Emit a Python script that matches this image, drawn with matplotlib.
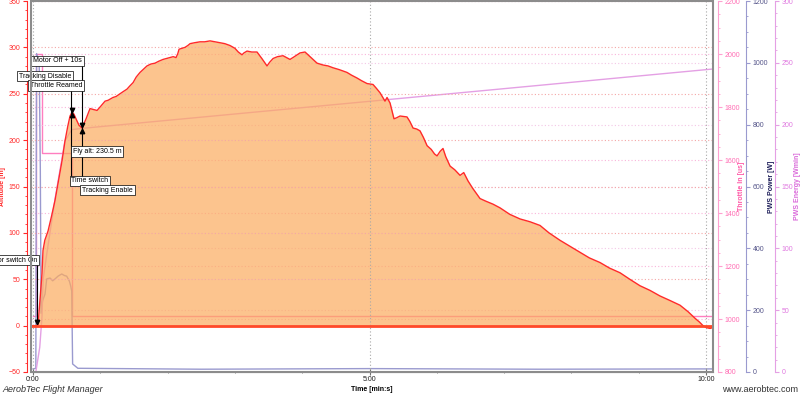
import matplotlib
matplotlib.use('Agg')
import matplotlib.pyplot as plt
from matplotlib.ticker import MultipleLocator, FuncFormatter
from matplotlib.patches import Rectangle

plt.rcParams['font.family'] = ['Liberation Sans', 'DejaVu Sans']

# --- data (time in seconds) ---
alt_t = [0, 3, 4.5, 6.2, 8.0, 8.9, 10.5, 13.4, 16.5, 19.6, 23, 25.9, 28.5, 31, 33.0, 34.8,
         36.5, 38.3, 41, 43.7, 45.5, 47.3, 50.8, 54, 57.1, 60, 64.2, 67, 71.3, 74, 77.6, 80,
         83.8, 86, 89.2, 92, 95.4, 98, 101.6, 105, 108.8, 112, 115.9, 119, 122.1, 125, 127.5,
         129, 130.2, 133, 135.5, 138, 140, 144, 148.9, 153, 157.8, 162, 166.7, 171, 175.6,
         180, 183, 186.3, 188, 190.8, 195, 199.7, 204, 208.6, 211, 214, 218, 222.9, 226,
         229.1, 233, 238, 242.5, 247, 253.2, 258.5, 263, 267.5, 273, 279.9, 284, 288.8, 293,
         297.8, 303.1, 306, 309.4, 313.8, 315.6, 318.3, 321.8, 324, 327.2, 333.4, 336, 338.8,
         342, 345, 348, 351.3, 355, 358, 360.2, 363, 365.5, 368, 371.8, 376, 380.7, 384,
         387.8, 392, 398.5, 404, 410, 416.3, 425, 434.2, 443, 452, 460, 469.8, 478, 487.7,
         496, 505.5, 514, 523.3, 532, 541.1, 550, 558.9, 568, 576.8, 584, 590.1, 594, 597.3,
         600, 603.5, 606]
alt_m = [0, 0, 1, 27, 56, 81, 92, 102, 118, 135, 158, 178, 199, 215, 226, 230,
         228, 223, 216, 213, 218, 223, 234, 233, 232, 236, 242, 243, 246, 247, 250, 252,
         255, 258, 262, 268, 273, 276, 280, 282, 283, 285, 287, 288, 289, 290, 289,
         293, 298, 299, 300, 302, 304, 305, 306, 306, 307, 306, 305, 304, 302,
         299, 295, 292, 294, 296, 295, 295, 288, 280, 284, 288, 290, 291, 289,
         287, 290, 294, 295, 290, 283, 281, 280, 278, 276, 273, 270, 267, 264,
         261, 260, 256, 251, 242, 246, 240, 223, 224, 226, 225, 220, 213,
         212, 210, 203, 194, 190, 185, 183, 188, 191, 182, 172, 168, 162, 165,
         156, 148, 137, 134, 131, 127, 120, 115, 112, 108, 100, 92, 86, 79,
         73, 68, 62, 57, 50, 43, 38, 32, 27, 22, 15, 8, 4, 0,
         -2, -3, -2]

thr_t = [0, 2.7, 2.7, 7.8, 7.8, 34.8, 34.8, 606]
thr_us = [1010, 1010, 2000, 2000, 1625, 1625, 1010, 1010]

pow_t = [0, 2.5, 3.2, 5.5, 6.5, 7.2, 8.5, 10.7, 12.2, 15.2, 17.5, 19.6, 22.3, 25.6, 28, 30,
         32.4, 33.6, 34.5, 35.3, 40, 150, 300, 450, 606]
pow_w = [10, 12, 1030, 1000, 660, 190, 230, 252, 301, 304, 295, 301, 310, 317, 312, 310,
         294, 278, 262, 26, 12, 9, 11, 9, 10]

en_t = [0, 2.5, 6, 8, 9, 13, 20, 28.5, 34.5, 43.7, 606]
en_wmin = [0, 0, 20, 45, 75, 100, 142, 187, 196, 197, 245]

# event markers: label, time, box altitude, alignment
events = [
    ('otor switch On', 3.6, 70.5, 'right'),
    ('Motor Off + 10s', 43.7, 285.5, 'right'),
    ('Tracking Disable', 34.3, 269, 'right'),
    ('Throttle Reamed', 43.7, 259, 'right'),
    ('Fly alt: 230.5 m', 35.7, 187.5, 'left'),
    ('Time switch', 34.3, 156, 'left'),
    ('Tracking Enable', 43.7, 146, 'left'),
]
event_lines_t = [3.6, 34.3, 43.7]
event_lines_top = [70.5, 269, 285.5]
event_lines_bot = [2, 156, 146]

# --- figure ---
fig = plt.figure(figsize=(8, 3.94), dpi=100)
ax = fig.add_axes([31 / 800, 1 - 372 / 394, 682 / 800, 371 / 394])
W = 682.0

ax_thr = ax.twinx()
ax_pow = ax.twinx()
ax_en = ax.twinx()

red = '#FF2A2A'
pink = '#FF7EC0'
lav = '#9A9ACF'
viol = '#E4A0E4'

for a, pos, c, lc in [(ax_thr, 5, '#FFA0D0', '#FF6EB4'), (ax_pow, 33, lav, '#55558A'),
                      (ax_en, 62, viol, '#E07AE0')]:
    for s in ['left', 'top', 'bottom']:
        a.spines[s].set_visible(False)
    a.spines['right'].set_position(('axes', 1 + pos / W))
    a.spines['right'].set_color(c)
    a.tick_params(axis='y', which='both', colors=c, labelcolor=lc, labelsize=5, pad=2)
    a.tick_params(axis='y', which='major', length=3)
    a.tick_params(axis='y', which='minor', length=1.5)

ax_thr.set_ylim(800, 2200)
ax_thr.yaxis.set_major_locator(MultipleLocator(200))
ax_thr.yaxis.set_minor_locator(MultipleLocator(50))
ax_thr.set_ylabel('Throttle In [us]', color='#FF5AA8', fontsize=5, fontweight='bold')
ax_thr.yaxis.set_label_coords((738 - 31) / W, 0.5)

ax_pow.set_ylim(0, 1200)
ax_pow.yaxis.set_major_locator(MultipleLocator(200))
ax_pow.yaxis.set_minor_locator(MultipleLocator(50))
ax_pow.set_ylabel('PWS Power [W]', color='#1E1E5A', fontsize=5, fontweight='bold')
ax_pow.yaxis.set_label_coords((768 - 31) / W, 0.5)

ax_en.set_ylim(0, 300)
ax_en.yaxis.set_major_locator(MultipleLocator(50))
ax_en.yaxis.set_minor_locator(MultipleLocator(10))
ax_en.set_ylabel('PWS Energy [Wmin]', color='#DA6ADA', fontsize=5, fontweight='bold')
ax_en.yaxis.set_label_coords((794 - 31) / W, 0.5)

# grids of the secondary scales
ax_thr.grid(axis='y', color='#F9B4DA', ls=(0, (1, 2)), lw=0.8)
ax_pow.grid(axis='y', color='#F3C6E6', ls=(0, (1, 2)), lw=0.8)

# secondary series (drawn beneath the altitude fill)
ax_thr.plot(thr_t, thr_us, color=pink, lw=1)
ax_pow.plot(pow_t, pow_w, color=lav, lw=1)
ax_en.plot(en_t, en_wmin, color=viol, lw=1)

# main altitude axis on top
ax.set_zorder(5)
ax.patch.set_visible(False)
ax.set_xlim(-1.8, 606.2)
ax.set_ylim(-50, 350)
ax.grid(axis='y', color='#F4A6A6', ls=(0, (1, 2)), lw=0.8)
ax.grid(axis='x', color='#A8A8A8', ls=(0, (1, 2)), lw=0.8)

ax.fill_between(alt_t, alt_m, 0, color='#FCAB5E', alpha=0.7, lw=0)
ax.plot(alt_t, alt_m, color=red, lw=1)
ax.axhline(0, color='#FF4A2A', lw=2)

ax.vlines(event_lines_t, event_lines_bot, event_lines_top, color='black', lw=0.8, zorder=6)
ax.plot([34.8, 43.7], [233, 216], 'kv', ms=3.2, zorder=7)
ax.plot([34.8, 43.7], [227, 210], 'k^', ms=3.2, zorder=7)
ax.plot([3.6], [4], 'kv', ms=3.2, zorder=7)
for label, t, y, ha in events:
    ax.text(t, y, label, ha=ha, va='center', fontsize=5, zorder=8, clip_on=False,
            bbox=dict(boxstyle='square,pad=0.25', fc='white', ec='black', lw=0.5))

# altitude axis styling
ax.spines['left'].set_position(('axes', -4 / W))
ax.spines['left'].set_color(red)
ax.spines['top'].set_visible(False)
ax.spines['right'].set_visible(False)
ax.spines['bottom'].set_color('#8C8C8C')
ax.yaxis.set_major_locator(MultipleLocator(50))
ax.yaxis.set_minor_locator(MultipleLocator(10))
ax.tick_params(axis='y', which='both', colors=red, labelcolor=red, labelsize=5, pad=2)
ax.tick_params(axis='y', which='major', length=3)
ax.tick_params(axis='y', which='minor', length=1.5)
ax.set_ylabel('Altitude [m]', color=red, fontsize=5, fontweight='bold')
ax.yaxis.set_label_coords(-25 / W, 0.5)

ax.xaxis.set_major_locator(MultipleLocator(300))
ax.xaxis.set_minor_locator(MultipleLocator(60))
ax.xaxis.set_major_formatter(FuncFormatter(lambda v, p: '%d:%02d' % (v // 60, v % 60)))
ax.tick_params(axis='x', which='both', direction='inout', colors='#707070',
               labelcolor='#202020', labelsize=5, pad=1)
ax.tick_params(axis='x', which='major', length=4)
ax.tick_params(axis='x', which='minor', length=2)
ax.set_xlabel('Time [min:s]', fontsize=5, fontweight='bold', labelpad=2)

# gray frame around the plot area
ax.add_patch(Rectangle((0, 0), 1, 1, transform=ax.transAxes, fill=False,
                       ec='#8C8C8C', lw=1.5, clip_on=False, zorder=9))

fig.text(2 / 800, 1 - 389 / 394, 'AerobTec Flight Manager', style='italic',
         fontsize=6.5, color='#333333', va='center')
fig.text(798 / 800, 1 - 389 / 394, 'www.aerobtec.com', ha='right',
         fontsize=6.5, color='#333333', va='center')

fig.savefig('out.png', dpi=100)
